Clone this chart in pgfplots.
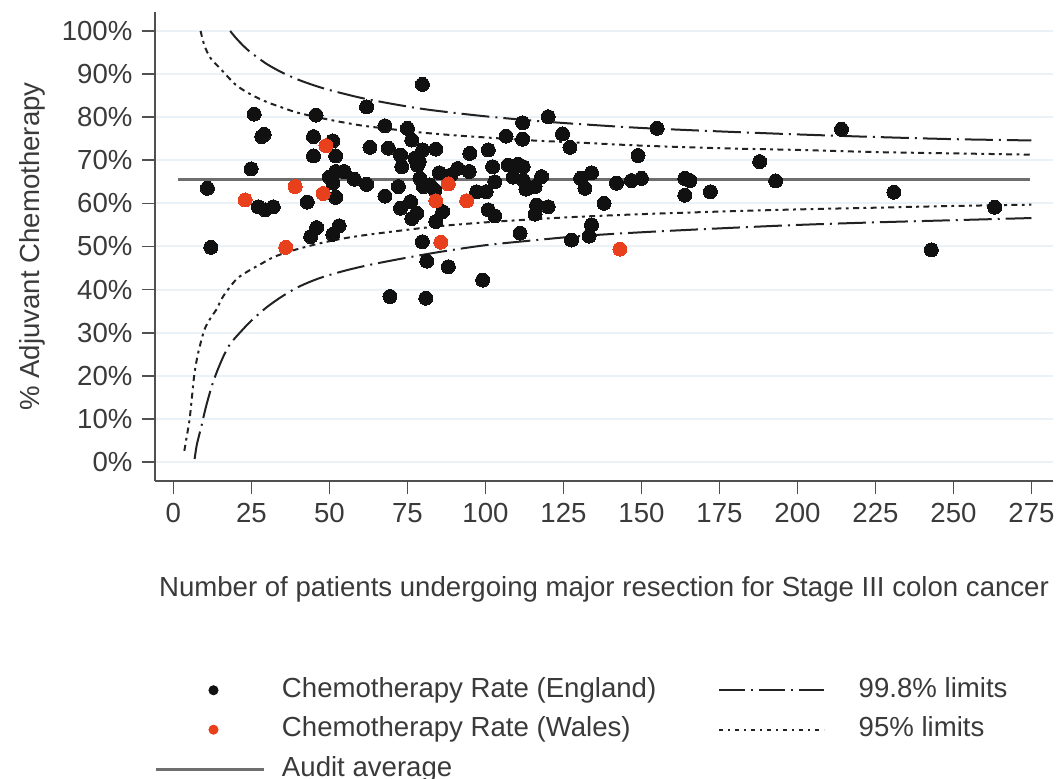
\documentclass[border=0pt]{standalone}
\usepackage{fontspec}
\setmainfont{Liberation Sans}
\usepackage{pgfplots}
\pgfplotsset{compat=1.18}
\definecolor{eng}{HTML}{111111}
\definecolor{wal}{HTML}{E8401C}
\definecolor{gridc}{HTML}{EBF2F7}
\definecolor{txt}{HTML}{3A3A3A}
\definecolor{avg}{HTML}{6E6E6E}
\definecolor{axl}{HTML}{505050}
\definecolor{lim}{HTML}{222222}

\begin{document}
\fontsize{13.8pt}{16.5pt}\selectfont
\begin{tikzpicture}
\path[use as bounding box] (-77.5pt,-149pt) rectangle (454pt,240.5pt);
\begin{axis}[
  at={(0pt,0pt)}, anchor=south west,
  scale only axis, width=449pt, height=234.5pt,
  xmin=-5.9, xmax=281.9, ymin=-4.4, ymax=104.4,
  axis x line*=bottom, axis y line*=left,
  axis line style={axl, line width=1.3pt},
  xtick={0,25,50,75,100,125,150,175,200,225,250,275},
  xticklabels={0,25,50,75,100,125,150,175,200,225,250,275},
  ytick={0,10,20,30,40,50,60,70,80,90,100},
  yticklabels={0\%,10\%,20\%,30\%,40\%,50\%,60\%,70\%,80\%,90\%,100\%},
  tick align=outside, major tick length=6.5pt,
  xtick pos=bottom, ytick pos=left,
  tick style={axl, line width=0.8pt},
  ticklabel style={text=txt},
  ymajorgrids, grid style={gridc, line width=1pt},
  xlabel={Number of patients undergoing major resection for Stage III colon cancer},
  ylabel={\% Adjuvant Chemotherapy},
  every axis x label/.style={at={(axis description cs:0.5,-0.232)}, anchor=center, text=txt},
  every axis y label/.style={at={(axis description cs:-0.137,0.5)}, anchor=center, rotate=90, text=txt},
  legend columns=2,
  legend cell align=left,
  legend style={at={(axis description cs:0,-0.4185)}, anchor=north west,
    draw=none, fill=none, inner sep=0pt, outer sep=0pt,
    column sep=8.5pt, row sep=6.7pt,
    nodes={inner sep=0pt, text height=10pt, text depth=3pt, text=txt},
    /tikz/every even column/.append style={column sep=31pt}},
]
% legend images
\addlegendimage{legend image code/.code={\fill[eng] (28.5pt,0pt) circle (2.3pt); \path (0pt,0pt) (53.5pt,0pt);}}
\addlegendentry{Chemotherapy Rate (England)}
\addlegendimage{legend image code/.code={\draw[lim, line width=1pt, dash pattern=on 13pt off 3pt on 1pt off 3pt] (0pt,0pt) -- (52.5pt,0pt); \path (61pt,0pt);}}
\addlegendentry{99.8\% limits}
\addlegendimage{legend image code/.code={\fill[wal] (28.5pt,0pt) circle (2.3pt); \path (0pt,0pt) (53.5pt,0pt);}}
\addlegendentry{Chemotherapy Rate (Wales)}
\addlegendimage{legend image code/.code={\draw[lim, line width=0.9pt, dash pattern=on 2pt off 2.5pt on 1pt off 2.5pt] (0pt,0pt) -- (52.5pt,0pt); \path (61pt,0pt);}}
\addlegendentry{95\% limits}
\addlegendimage{legend image code/.code={\draw[avg, line width=1.5pt] (0pt,0pt) -- (53.5pt,0pt);}}
\addlegendentry{Audit average}

% audit average
\addplot[forget plot, avg, line width=1.5pt] coordinates {(1.5,65.5) (274.5,65.5)};

% 99.8% limits
\addplot[forget plot, lim, line width=1pt, smooth, dash pattern=on 14pt off 3pt on 1pt off 3pt] coordinates {
(18.2,100)(20,98.4)(22.5,96.5)(25,94.9)(30,92.3)(35,90.3)(40,88.7)(45,87.4)(50,86.3)(60,84.5)(70,83.1)(80,81.9)(90,81.0)(100,80.2)(115,79.2)(130,78.4)(150,77.5)(175,76.7)(200,76.0)(225,75.4)(250,74.9)(275,74.6)};
\addplot[forget plot, lim, line width=1pt, smooth, dash pattern=on 14pt off 3pt on 1pt off 3pt] coordinates {
(6.8,0.7)(7.5,4)(8.9,8.1)(10.5,13)(12.7,18.5)(15.4,23.5)(18,27.2)(21.8,30.4)(25,32.8)(29.9,35.9)(35,38.5)(40.6,40.8)(47,42.7)(54.5,44.3)(62,45.6)(71.8,47.0)(85,48.7)(100,50.3)(115,51.4)(130,52.4)(150,53.3)(175,54.2)(200,55.0)(225,55.6)(250,56.1)(275,56.6)};

% 95% limits
\addplot[forget plot, lim, line width=1pt, smooth, dash pattern=on 3pt off 2.2pt on 1.4pt off 2.2pt] coordinates {
(8.7,100)(10,96.5)(12,93.6)(15,91.3)(20,87.5)(25,85.2)(30,83.5)(35,82.2)(40,81.0)(50,79.4)(60,78.1)(70,77.2)(80,76.4)(90,75.8)(100,75.3)(115,74.6)(130,74.1)(150,73.4)(175,72.8)(200,72.4)(225,71.9)(250,71.6)(275,71.3)};
\addplot[forget plot, lim, line width=1pt, smooth, dash pattern=on 3pt off 2.2pt on 1.4pt off 2.2pt] coordinates {
(3.5,2.6)(4.3,6)(5.2,10)(6,15.5)(6.8,20.8)(8,25.5)(10,30.8)(12,33.5)(13.8,35.4)(16,38.5)(20.2,42.4)(24,44.3)(27.7,45.8)(32,47.5)(37.4,48.9)(45,50.4)(52.5,51.6)(60,52.5)(71.8,53.6)(85,54.7)(100,55.6)(115,56.3)(130,56.9)(150,57.5)(175,58.1)(200,58.6)(225,59.0)(250,59.4)(275,59.7)};

% England
\addplot[forget plot, only marks, mark=*, mark size=3.5pt, mark options={fill=eng, draw=eng, line width=0pt}] coordinates {
(10.9,63.5)(12.0,49.8)(25.9,80.7)(28.3,75.5)(29.1,76.0)(24.9,68.0)(27.2,59.2)(29.4,58.5)(32.0,59.2)
(42.9,60.3)(45.7,80.5)(44.9,75.5)(44.9,71.0)(51.1,74.5)(52.0,71.0)(52.0,67.4)(54.7,67.4)(50.0,66.1)
(51.1,64.7)(52.0,61.4)(58.0,65.6)(61.9,64.4)(45.9,54.4)(44.0,52.3)(53.1,54.8)(51.1,52.8)(61.9,82.4)
(67.8,78.0)(63.0,73.0)(68.9,72.8)(67.8,61.7)(69.4,38.4)(79.8,87.6)(75.0,77.4)(76.4,74.7)(72.8,71.2)
(79.9,72.4)(84.1,72.6)(77.4,70.5)(78.8,69.7)(78.2,68.9)(73.2,68.5)(79.0,65.8)(80.1,63.9)(82.2,64.3)
(85.2,67.1)(91.1,68.1)(88.9,66.6)(83.8,63.1)(72.1,63.9)(76.0,60.4)(72.8,58.9)(78.0,57.7)(76.4,56.5)
(86.3,58.1)(84.1,55.8)(95.0,71.6)(94.8,67.4)(100.9,72.4)(102.3,68.5)(103.0,65.0)(97.2,62.7)(100.2,62.7)
(100.9,58.5)(103.0,57.1)(111.1,53.1)(127.6,51.5)(79.8,51.1)(81.2,46.6)(88.1,45.3)(99.1,42.2)(80.9,38.0)
(106.6,75.6)(111.9,78.7)(111.9,74.9)(120.1,80.1)(124.7,76.1)(127.1,73.0)(107.3,68.9)(110.5,69.1)(112.1,68.5)
(108.9,66.1)(112.1,65.4)(113.0,63.3)(115.9,63.9)(118.0,66.2)(116.4,59.6)(120.1,59.2)(115.9,57.5)(130.5,65.8)
(155.0,77.4)(148.9,71.1)(187.9,69.7)(134.0,67.1)(131.9,63.5)(142.0,64.7)(146.8,65.3)(150.0,65.8)(163.9,65.8)
(165.5,65.3)(163.9,61.9)(172.1,62.7)(138.0,60.0)(134.0,55.0)(133.2,52.4)(214.1,77.2)(193.0,65.2)(230.9,62.6)
(263.2,59.1)(242.9,49.2)};

% Wales
\addplot[forget plot, only marks, mark=*, mark size=3.5pt, mark options={fill=wal, draw=wal, line width=0pt}] coordinates {
(23.0,60.8)(39.0,63.9)(36.0,49.8)(48.9,73.4)(48.0,62.3)(88.1,64.5)(84.1,60.6)(94.0,60.6)(85.7,51.0)(143.1,49.4)};
\end{axis}
\end{tikzpicture}
\end{document}
